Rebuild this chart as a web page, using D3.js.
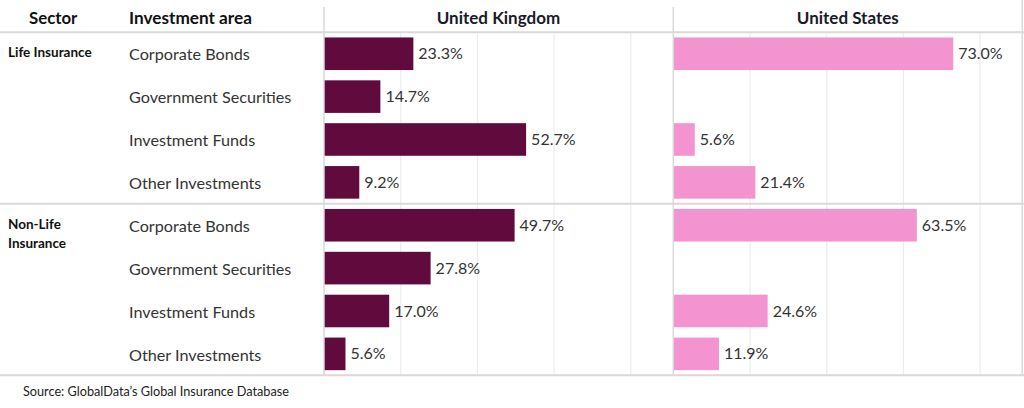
<!DOCTYPE html>
<html><head><meta charset="utf-8">
<script src="https://cdn.jsdelivr.net/npm/d3@7"></script>
<style>
html,body{margin:0;padding:0;background:#fff;}
svg{display:block;font-family:Lato,"Open Sans",sans-serif;}
</style></head>
<body><svg id="c" width="1024" height="408"></svg>
<script>
const sectors = ["Life Insurance", "Non-Life Insurance"];
const areas = ["Corporate Bonds", "Government Securities", "Investment Funds", "Other Investments"];
const countries = ["United Kingdom", "United States"];
const ukValues = [23.3, 14.7, 52.7, 9.2, 49.7, 27.8, 17.0, 5.6];
const usValues = [73.0, null, 5.6, 21.4, 63.5, null, 24.6, 11.9];
const gridTicks = [20, 40, 60, 80];
const headers = ["Sector", "Investment area"];
const source = "Source: GlobalData\u2019s Global Insurance Database";

const colors = ["#600a3e", "#f394d0"];
const svg = d3.select("#c");

const rows = [];
sectors.forEach((s, si) => areas.forEach((a, ai) => rows.push({key: si + "-" + ai, sector: s, area: a, idx: si * 4 + ai})));

const yTop = 32.3, yBottom = 375.3;
const y = d3.scaleBand().domain(rows.map(r => r.key)).range([yTop, yBottom]).paddingInner(0.24).paddingOuter(0.12);
const panelX = [324, 673.3];
const panelW = 349;
const x = d3.scaleLinear().domain([0, 91]).range([0, panelW]);
const seriesAll = [ukValues, usValues];

// gridlines
panelX.forEach((px, pi) => {
  const g = svg.append("g").attr("transform", `translate(${px},0)`);
  g.selectAll("line.grid").data(gridTicks).join("line")
    .attr("x1", d => x(d)).attr("x2", d => x(d))
    .attr("y1", yTop + 1).attr("y2", yBottom)
    .attr("stroke", "#ececec").attr("stroke-width", 1.2);
});

// bars
panelX.forEach((px, pi) => {
  const g = svg.append("g").attr("transform", `translate(${px},0)`);
  const data = rows.map(r => ({r, v: seriesAll[pi][r.idx]})).filter(d => d.v != null);
  g.selectAll("rect").data(data).join("rect")
    .attr("x", 0).attr("y", d => y(d.r.key))
    .attr("width", d => x(d.v)).attr("height", y.bandwidth())
    .attr("fill", colors[pi]);
  g.selectAll("text.val").data(data).join("text")
    .attr("x", d => x(d.v) + 5).attr("y", d => y(d.r.key) + y.bandwidth() / 2)
    .attr("dy", "0.35em").attr("font-size", 16).attr("fill", "#333")
    .text(d => d.v.toFixed(1) + "%");
});

// structure lines
const lineCol = "#d9d9d9";
[yTop, y(rows[4].key) - y.step() * y.paddingInner() / 2, yBottom].forEach(yy => {
  svg.append("line").attr("x1", 0).attr("x2", 1024).attr("y1", yy).attr("y2", yy)
    .attr("stroke", lineCol).attr("stroke-width", 2);
});
[panelX[0], panelX[1]].forEach(xx => {
  svg.append("line").attr("x1", xx).attr("x2", xx).attr("y1", 7).attr("y2", yBottom)
    .attr("stroke", lineCol).attr("stroke-width", 1.5);
});
svg.append("line").attr("x1", panelX[1] + panelW).attr("x2", panelX[1] + panelW).attr("y1", 0).attr("y2", yBottom)
  .attr("stroke", lineCol).attr("stroke-width", 1.5);

// headers
svg.append("text").attr("x", 29).attr("y", 18).attr("dy", "0.35em").attr("font-size", 16.8).attr("font-weight", "bold").attr("fill", "#111").text(headers[0]);
svg.append("text").attr("x", 129).attr("y", 18).attr("dy", "0.35em").attr("font-size", 17.2).attr("font-weight", "bold").attr("fill", "#111").text(headers[1]);
countries.forEach((c, i) => {
  svg.append("text").attr("x", panelX[i] + panelW / 2).attr("y", 18).attr("dy", "0.35em")
    .attr("text-anchor", "middle").attr("font-size", 17).attr("font-weight", "bold").attr("fill", "#1a1a2a").text(c);
});

// row labels
svg.selectAll("text.area").data(rows).join("text")
  .attr("x", 129).attr("y", d => y(d.key) + y.bandwidth() / 2 + 1)
  .attr("dy", "0.35em").attr("font-size", 16.2).attr("fill", "#333").text(d => d.area);

// sector labels
sectors.forEach((s, si) => {
  const r = rows[si * 4];
  const yc = y(r.key) + y.bandwidth() / 2 - 1;
  const words = si === 0 ? [s] : ["Non-Life", "Insurance"];
  words.forEach((w, wi) => {
    svg.append("text").attr("x", 8).attr("y", yc + wi * 19).attr("dy", "0.35em")
      .attr("font-size", 13.5).attr("font-weight", "bold").attr("fill", "#111").text(w);
  });
});

svg.append("text").attr("x", 23).attr("y", 392).attr("dy", "0.35em").attr("font-size", 12.7).attr("fill", "#222").text(source);
</script></body></html>
